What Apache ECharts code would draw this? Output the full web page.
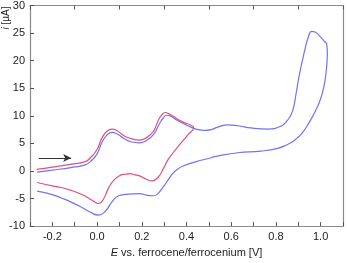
<!DOCTYPE html>
<html><head><meta charset="utf-8">
<script src="https://cdn.jsdelivr.net/npm/echarts@6/dist/echarts.min.js"></script>
<style>html,body{margin:0;padding:0;background:#fff}#c{width:347px;height:263px}</style>
</head><body><div id="c"></div>
<script>
// Potential (V) and current (µA) pairs
const redE = [-0.27,-0.2,-0.12,-0.053,-0.03,0.0,0.022,0.044,0.067,0.09,0.12,0.15,0.19,0.22,0.252,0.274,0.29,0.305,0.32,0.34,0.385,0.422,0.432,
  0.407,0.37,0.34,0.318,0.296,0.274,0.245,0.22,0.19,0.17,0.148,0.125,0.104,0.074,0.05,0.03,0.007,-0.022,-0.06,-0.118,-0.16,-0.2,-0.268];
const redI = [0.3,0.7,1.2,1.7,2.4,3.9,6.0,7.2,7.6,7.3,6.4,5.9,5.6,6.0,7.2,9.2,10.2,10.6,10.4,9.9,8.85,8.25,7.9,
  6.6,4.8,3.3,2.1,0.4,-1.1,-1.8,-1.5,-0.9,-0.7,-0.5,-0.6,-0.8,-1.7,-3.2,-5.0,-5.9,-5.3,-4.4,-3.5,-3.0,-2.7,-2.1];
const blueE = [-0.268,-0.2,-0.118,-0.053,-0.03,0.0,0.022,0.044,0.067,0.09,0.12,0.15,0.19,0.22,0.252,0.281,0.296,0.311,0.33,0.356,0.39,0.422,0.45,0.48,0.51,0.54,0.585,0.63,0.689,0.763,0.822,0.852,0.874,0.89,0.904,0.926,0.945,0.96,0.975,0.995,1.015,1.027,
  1.03,1.027,1.02,1.01,1.0,0.985,0.963,0.94,0.918,0.896,0.874,0.852,0.807,0.733,0.63,0.526,0.502,0.444,0.385,0.36,0.34,0.32,0.296,0.27,0.252,0.22,0.19,0.14,0.096,0.067,0.037,0.007,-0.03,-0.06,-0.118,-0.16,-0.2,-0.268];
const blueI = [-0.2,0.15,0.6,1.1,1.7,3.1,5.2,6.5,7.0,6.7,5.9,5.3,5.1,5.5,6.6,8.7,9.6,10.1,9.9,9.25,8.5,7.9,7.5,7.35,7.5,7.95,8.37,8.2,7.8,7.6,8.1,9.2,10.8,14.0,17.3,21.4,24.3,25.3,25.2,24.5,23.6,23.0,
  21.5,19.0,16.5,14.5,13.1,11.6,9.8,8.2,6.9,6.0,5.3,4.8,4.1,3.6,3.3,2.6,2.3,1.7,0.9,0.3,-0.4,-1.5,-2.9,-4.2,-4.5,-4.4,-4.1,-4.2,-4.5,-5.6,-7.3,-8.0,-7.5,-6.8,-5.6,-4.9,-4.3,-3.65];
const arrowE = [-0.261, -0.116];
const arrowI = 2.35;
const yTicks = [-10, -5, 0, 5, 10, 15, 20, 25, 30];
const xLabel = 'E vs. ferrocene/ferrocenium [V]';
const yLabel = 'i [µA]';

const pair = (a, b) => a.map((v, i) => [v, b[i]]);
const axisCol = '#8a8a8a';
const font = 'Liberation Sans, Arial';
const chart = echarts.init(document.getElementById('c'));
chart.setOption({
  animation: false,
  grid: { left: 30, right: 4, top: 5, bottom: 33 },
  xAxis: [{
    type: 'value', min: -0.3, max: 1.1, interval: 0.1,
    axisLine: { show: true, onZero: false, lineStyle: { color: axisCol, width: 1.2 } },
    axisTick: { show: true, inside: true, length: 4, lineStyle: { color: '#555' } },
    splitLine: { show: false },
    axisLabel: { margin: 5, color: '#222', fontSize: 11, fontFamily: font,
      formatter: v => { const k = Math.round(v * 10); return (k % 2 === 0 && k > -3 && k < 11) ? (k / 10).toFixed(1) : ''; } },
    name: '{i|E} vs. ferrocene/ferrocenium [V]', nameLocation: 'middle', nameGap: 20,
    nameTextStyle: { color: '#222', fontSize: 11, fontFamily: font, rich: { i: { fontStyle: 'italic', fontSize: 11, fontFamily: font, color: '#222' } } }
  }, {
    type: 'value', position: 'top', min: -0.3, max: 1.1, interval: 0.2,
    axisLine: { show: true, onZero: false, lineStyle: { color: axisCol, width: 1.2 } },
    axisTick: { show: true, inside: true, length: 4, lineStyle: { color: '#555' } },
    axisLabel: { show: false }, splitLine: { show: false }
  }],
  yAxis: [{
    type: 'value', min: yTicks[0], max: yTicks[yTicks.length - 1], interval: 5,
    axisLine: { show: true, onZero: false, lineStyle: { color: axisCol, width: 1.2 } },
    axisTick: { show: true, inside: true, length: 4, lineStyle: { color: '#555' } },
    splitLine: { show: false },
    axisLabel: { margin: 5, color: '#222', fontSize: 11, fontFamily: font }
  }, {
    type: 'value', position: 'right', min: -10, max: 30, interval: 5,
    axisLine: { show: true, onZero: false, lineStyle: { color: axisCol, width: 1.2 } },
    axisTick: { show: false }, axisLabel: { show: false }, splitLine: { show: false }
  }],
  graphic: [{
    type: 'text', rotation: Math.PI / 2, x: 6, y: 18,
    style: { text: '{i|i} [µA]', fill: '#222', fontSize: 10, fontFamily: font, align: 'center', verticalAlign: 'middle',
      rich: { i: { fontStyle: 'italic', fontSize: 10, fontFamily: font, fill: '#222' } } }
  }],
  series: [{
    type: 'line', data: pair(redE, redI), smooth: 0.5, showSymbol: false,
    lineStyle: { color: '#e2507a', width: 1.2 }, z: 3
  }, {
    type: 'line', data: pair(blueE, blueI), smooth: 0.5, showSymbol: false,
    lineStyle: { color: '#7272f2', width: 1.2 }, z: 2,
    markLine: { silent: true, symbol: ['none', 'arrow'], symbolSize: [6, 8], label: { show: false },
      lineStyle: { color: '#333', width: 1, type: 'solid' },
      data: [[{ coord: [arrowE[0], arrowI] }, { coord: [arrowE[1], arrowI] }]] }
  }]
});
</script></body></html>
